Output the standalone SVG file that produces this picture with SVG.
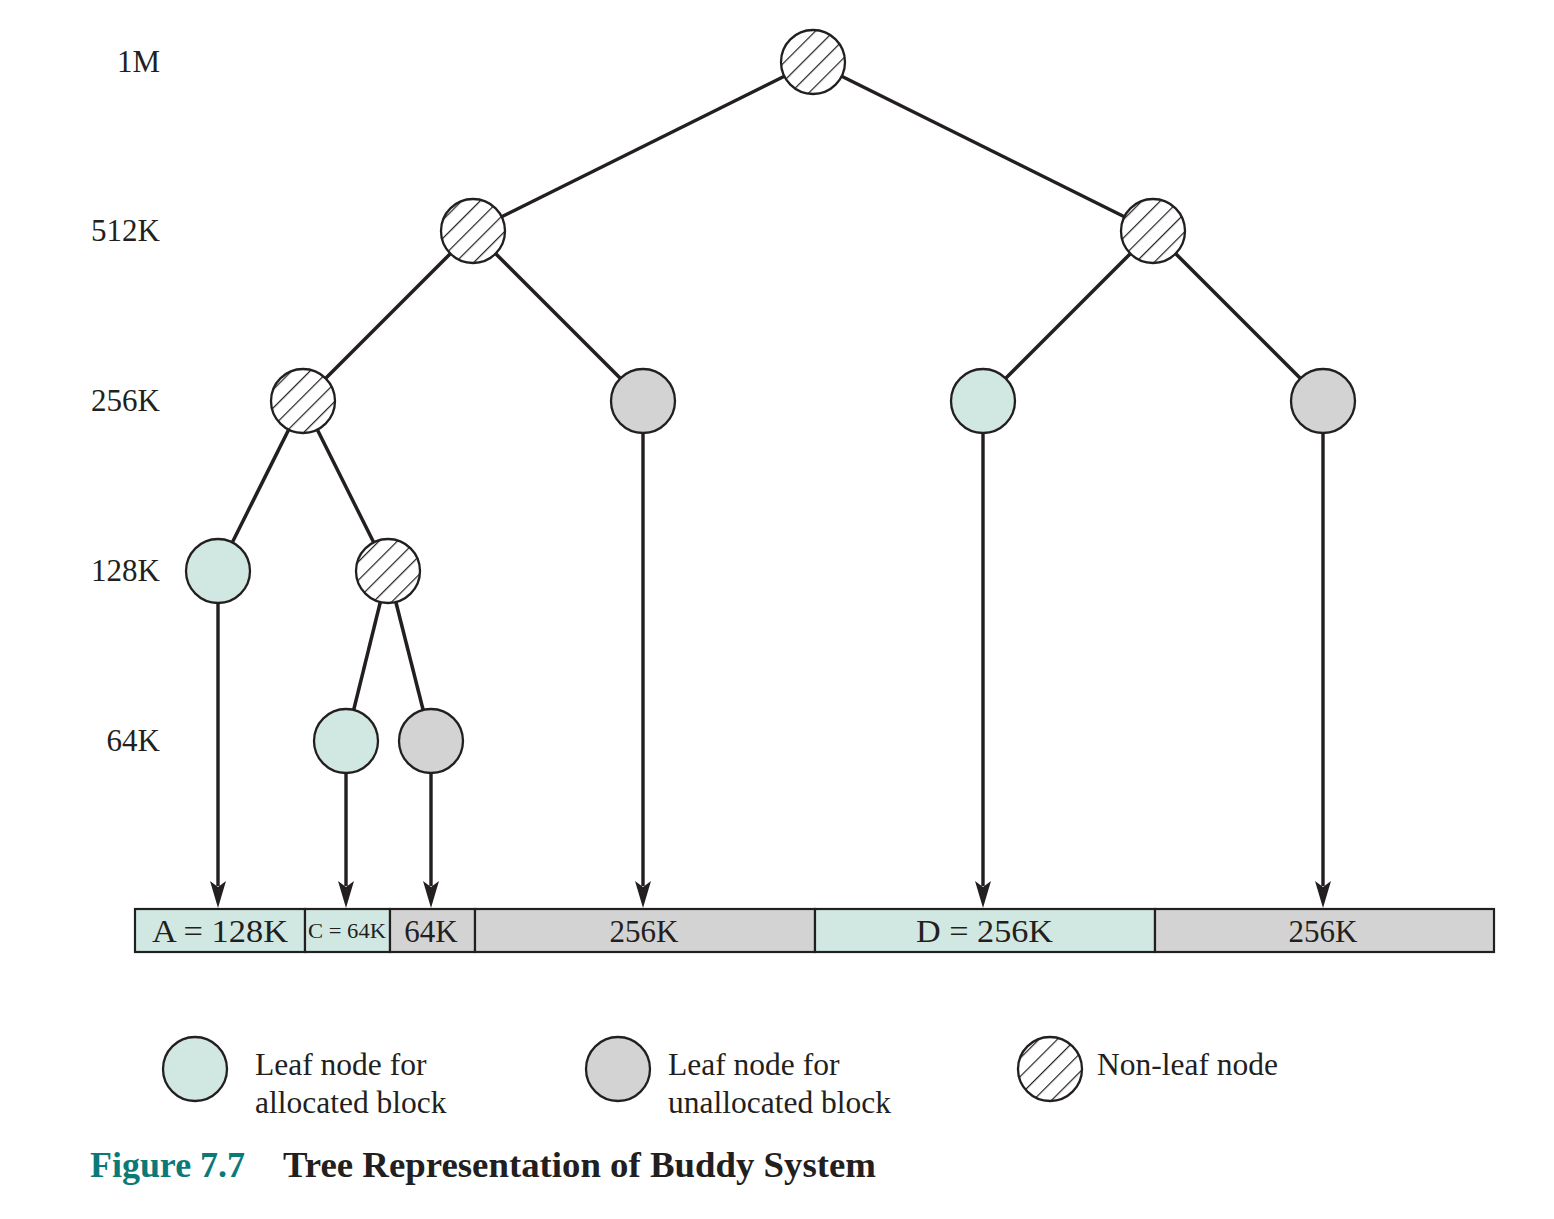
<svg xmlns="http://www.w3.org/2000/svg" width="1554" height="1219" viewBox="0 0 1554 1219">
<style>
text{font-family:"Liberation Serif","Times New Roman",serif;fill:#231f20;}
.lbl{font-size:31.5px;}
.lvl{font-size:31px;text-anchor:end;}
.bar{font-size:31px;text-anchor:middle;}
.edge{stroke:#231f20;stroke-width:3.5;fill:none;}
.shaft{stroke:#231f20;stroke-width:3.4;fill:none;}
.alloc{fill:#d1e8e2;stroke:#231f20;stroke-width:2.3;}
.free{fill:#d3d3d3;stroke:#231f20;stroke-width:2.3;}
.hatch{fill:url(#hp);stroke:#231f20;stroke-width:2.3;}
.cell{stroke:#231f20;stroke-width:2.2;}
.cap{font-size:36px;font-weight:bold;}
</style>
<defs>
<pattern id="hp" patternUnits="userSpaceOnUse" width="13" height="13" patternTransform="rotate(45)">
<rect width="13" height="13" fill="#fff"/>
<line x1="0" y1="0" x2="0" y2="13" stroke="#231f20" stroke-width="2.4"/>
</pattern>
</defs>
<rect width="1554" height="1219" fill="#fff"/>

<g id="level-labels">
<text class="lvl" x="160" y="72">1M</text>
<text class="lvl" x="160" y="241">512K</text>
<text class="lvl" x="160" y="411">256K</text>
<text class="lvl" x="160" y="581">128K</text>
<text class="lvl" x="160" y="751">64K</text>
</g>

<g id="connectors">
<line class="edge" x1="813" y1="62" x2="473" y2="231"/>
<line class="edge" x1="813" y1="62" x2="1153" y2="231"/>
<line class="edge" x1="473" y1="231" x2="303" y2="401"/>
<line class="edge" x1="473" y1="231" x2="643" y2="401"/>
<line class="edge" x1="1153" y1="231" x2="983" y2="401"/>
<line class="edge" x1="1153" y1="231" x2="1323" y2="401"/>
<line class="edge" x1="303" y1="401" x2="218" y2="571"/>
<line class="edge" x1="303" y1="401" x2="388" y2="571"/>
<line class="edge" x1="388" y1="571" x2="346" y2="741"/>
<line class="edge" x1="388" y1="571" x2="431" y2="741"/>
<path class="shaft" d="M218,603 V886"/>
<path class="shaft" d="M346,773 V886"/>
<path class="shaft" d="M431,773 V886"/>
<path class="shaft" d="M643,433 V886"/>
<path class="shaft" d="M983,433 V886"/>
<path class="shaft" d="M1323,433 V886"/>
<g fill="#231f20">
<path d="M210,881 L218,908 L226,881 L218,887 Z"/>
<path d="M338,881 L346,908 L354,881 L346,887 Z"/>
<path d="M423,881 L431,908 L439,881 L431,887 Z"/>
<path d="M635,881 L643,908 L651,881 L643,887 Z"/>
<path d="M975,881 L983,908 L991,881 L983,887 Z"/>
<path d="M1315,881 L1323,908 L1331,881 L1323,887 Z"/>
</g>
</g>

<g id="node-1M"><circle class="hatch" cx="813" cy="62" r="32"/></g>
<g id="node-512K-L"><circle class="hatch" cx="473" cy="231" r="32"/></g>
<g id="node-512K-R"><circle class="hatch" cx="1153" cy="231" r="32"/></g>
<g id="node-256K-1"><circle class="hatch" cx="303" cy="401" r="32"/></g>
<g id="node-256K-2"><circle class="free" cx="643" cy="401" r="32"/></g>
<g id="node-256K-3"><circle class="alloc" cx="983" cy="401" r="32"/></g>
<g id="node-256K-4"><circle class="free" cx="1323" cy="401" r="32"/></g>
<g id="node-128K-1"><circle class="alloc" cx="218" cy="571" r="32"/></g>
<g id="node-128K-2"><circle class="hatch" cx="388" cy="571" r="32"/></g>
<g id="node-64K-1"><circle class="alloc" cx="346" cy="741" r="32"/></g>
<g id="node-64K-2"><circle class="free" cx="431" cy="741" r="32"/></g>

<g id="memory-bar">
<rect class="cell" x="135" y="909" width="170" height="43" fill="#d1e8e2"/>
<rect class="cell" x="305" y="909" width="85" height="43" fill="#d1e8e2"/>
<rect class="cell" x="390" y="909" width="85" height="43" fill="#d3d3d3"/>
<rect class="cell" x="475" y="909" width="340" height="43" fill="#d3d3d3"/>
<rect class="cell" x="815" y="909" width="340" height="43" fill="#d1e8e2"/>
<rect class="cell" x="1155" y="909" width="339" height="43" fill="#d3d3d3"/>
<text x="152" y="942" font-size="31" textLength="136" lengthAdjust="spacingAndGlyphs">A = 128K</text>
<text x="308" y="938" font-size="22" textLength="78" lengthAdjust="spacingAndGlyphs">C = 64K</text>
<text class="bar" x="431" y="942">64K</text>
<text class="bar" x="644" y="942">256K</text>
<text x="916" y="942" font-size="31" textLength="137" lengthAdjust="spacingAndGlyphs">D = 256K</text>
<text class="bar" x="1323" y="942">256K</text>
</g>

<g id="legend-allocated">
<circle class="alloc" cx="195" cy="1069" r="32"/>
<text class="lbl" x="255" y="1075">Leaf node for</text>
<text class="lbl" x="255" y="1113">allocated block</text>
</g>
<g id="legend-unallocated">
<circle class="free" cx="618" cy="1069" r="32"/>
<text class="lbl" x="668" y="1075">Leaf node for</text>
<text class="lbl" x="668" y="1113">unallocated block</text>
</g>
<g id="legend-nonleaf">
<circle class="hatch" cx="1050" cy="1069" r="32"/>
<text class="lbl" x="1097" y="1075">Non-leaf node</text>
</g>

<g id="caption">
<text class="cap" x="90" y="1177" style="fill:#0a7a78" textLength="155" lengthAdjust="spacingAndGlyphs">Figure 7.7</text>
<text class="cap" x="283" y="1177" textLength="593" lengthAdjust="spacingAndGlyphs">Tree Representation of Buddy System</text>
</g>
</svg>
